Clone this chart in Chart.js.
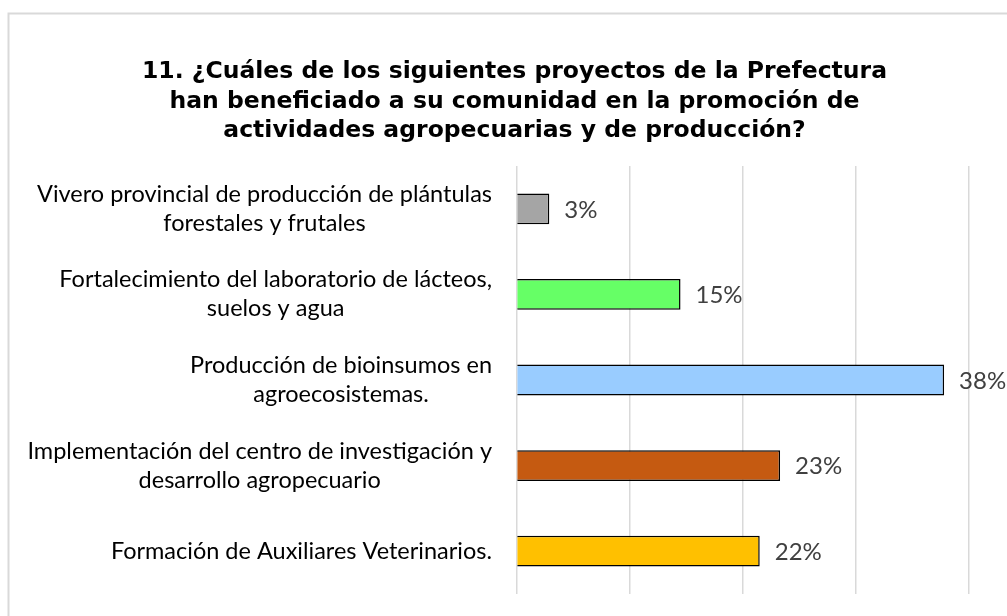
<!DOCTYPE html>
<html>
<head>
<meta charset="utf-8">
<script src="https://cdn.jsdelivr.net/npm/chart.js@4/dist/chart.umd.min.js"></script>
<style>
  html, body { margin: 0; padding: 0; background: #fff; }
  #wrap { width: 1007px; height: 616px; position: relative; }
</style>
</head>
<body>
<div id="wrap"><canvas id="c" width="1007" height="616"></canvas></div>
<script>
const titleLines = [
  "11. ¿Cuáles de los siguientes proyectos de la Prefectura",
  "han beneficiado a su comunidad en la promoción de",
  "actividades agropecuarias y de producción?"
];
const categories = [
  ["Vivero provincial de producción de plántulas", "forestales y frutales"],
  ["Fortalecimiento del laboratorio de lácteos,", "suelos y agua"],
  ["Producción de bioinsumos en", "agroecosistemas."],
  ["Implementación del centro de investigación y", "desarrollo agropecuario"],
  ["Formación de Auxiliares Veterinarios."]
];
const values = [0.029, 0.145, 0.378, 0.233, 0.215];
const valueLabels = ["3%", "15%", "38%", "23%", "22%"];
const barColors = ["#A5A5A5", "#66FF66", "#99CCFF", "#C55A11", "#FFC000"];
const xTicks = [0, 0.1, 0.2, 0.3, 0.4];

const TITLE_FONT = "bold 23.5px 'DejaVu Sans'";
const LABEL_FONT = "23.5px Lato";
const VALUE_FONT = "24px Lato";

const framePlugin = {
  id: 'frame',
  beforeDraw(chart) {
    const ctx = chart.ctx;
    ctx.save();
    ctx.strokeStyle = '#D9D9D9';
    ctx.lineWidth = 2;
    ctx.beginPath();
    ctx.moveTo(8.5, 616);
    ctx.lineTo(8.5, 13.5);
    ctx.lineTo(1007, 13.5);
    ctx.stroke();
    ctx.font = TITLE_FONT;
    ctx.fillStyle = '#000000';
    ctx.textAlign = 'center';
    ctx.textBaseline = 'middle';
    titleLines.forEach((t, i) => ctx.fillText(t, 514.5, 72 + i * 29.5));
    ctx.restore();
  }
};

const labelsPlugin = {
  id: 'customLabels',
  afterDatasetsDraw(chart) {
    const ctx = chart.ctx;
    const yScale = chart.scales.y;
    const area = chart.chartArea;
    ctx.save();
    ctx.font = LABEL_FONT;
    ctx.fillStyle = '#000000';
    ctx.textAlign = 'center';
    ctx.textBaseline = 'middle';
    const rightEdge = area.left - 24.5;
    const lh = 29;
    categories.forEach((lines, i) => {
      const y = yScale.getPixelForTick(i);
      let maxW = 0;
      lines.forEach(l => { maxW = Math.max(maxW, ctx.measureText(l).width); });
      const cx = rightEdge - maxW / 2;
      lines.forEach((l, j) => {
        ctx.fillText(l, cx, y + (j - (lines.length - 1) / 2) * lh);
      });
    });
    ctx.font = VALUE_FONT;
    ctx.fillStyle = '#404040';
    ctx.textAlign = 'left';
    const meta = chart.getDatasetMeta(0);
    meta.data.forEach((el, i) => {
      ctx.fillText(valueLabels[i], el.x + 15, el.y + 1);
    });
    ctx.restore();
  }
};

new Chart(document.getElementById('c'), {
  type: 'bar',
  data: {
    labels: categories,
    datasets: [{
      data: values,
      backgroundColor: barColors,
      borderColor: '#000000',
      borderWidth: 1.5,
      categoryPercentage: 1.0,
      barPercentage: 0.36
    }]
  },
  options: {
    indexAxis: 'y',
    responsive: false,
    animation: false,
    devicePixelRatio: 1,
    layout: { padding: { left: 0, right: 38, top: 166, bottom: 22 } },
    plugins: {
      legend: { display: false },
      tooltip: { enabled: false },
      title: { display: false }
    },
    scales: {
      x: {
        min: 0,
        max: 0.4,
        afterBuildTicks(scale) { scale.ticks = xTicks.map(v => ({ value: v })); },
        ticks: { display: false },
        grid: { color: '#D9D9D9', lineWidth: 1.5, drawTicks: false },
        border: { display: false },
        afterFit(scale) { scale.height = 0; }
      },
      y: {
        ticks: { display: false },
        grid: { display: false, drawTicks: false },
        border: { display: false },
        afterFit(scale) { scale.width = 516.5; }
      }
    }
  },
  plugins: [framePlugin, labelsPlugin]
});
</script>
</body>
</html>
